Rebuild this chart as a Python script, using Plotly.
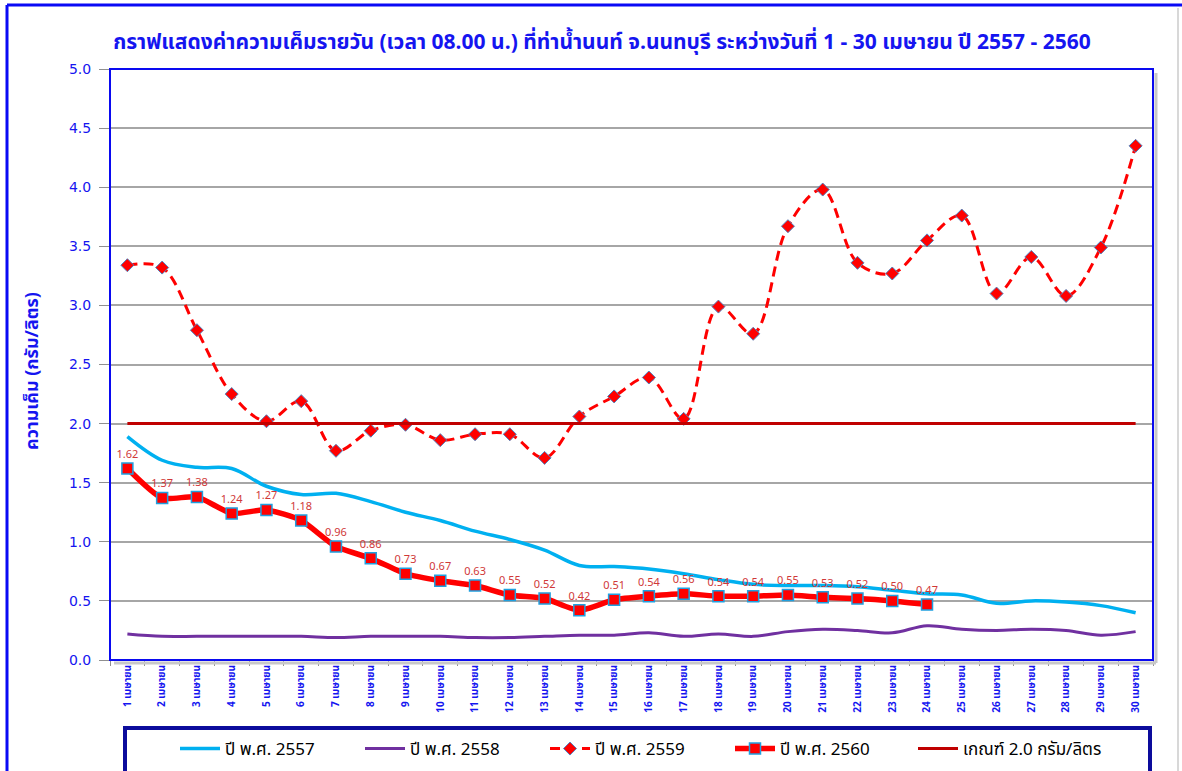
import plotly.graph_objects as go

# ---------------- data ----------------
days = list(range(1, 31))
month_name = "เมษายน"
categories = [f"{d} {month_name}" for d in days]

y2557 = [1.89, 1.69, 1.63, 1.62, 1.47, 1.40, 1.41, 1.34, 1.25, 1.18,
         1.09, 1.02, 0.93, 0.80, 0.79, 0.77, 0.73, 0.68, 0.64, 0.63,
         0.63, 0.62, 0.59, 0.56, 0.55, 0.48, 0.50, 0.49, 0.46, 0.40]

y2558 = [0.22, 0.20, 0.20, 0.20, 0.20, 0.20, 0.19, 0.20, 0.20, 0.20,
         0.19, 0.19, 0.20, 0.21, 0.21, 0.23, 0.20, 0.22, 0.20, 0.24,
         0.26, 0.25, 0.23, 0.29, 0.26, 0.25, 0.26, 0.25, 0.21, 0.24]

y2559 = [3.34, 3.32, 2.79, 2.25, 2.02, 2.19, 1.77, 1.94, 1.99, 1.86,
         1.91, 1.91, 1.71, 2.06, 2.23, 2.39, 2.04, 2.99, 2.76, 3.67,
         3.98, 3.36, 3.27, 3.55, 3.76, 3.10, 3.41, 3.08, 3.49, 4.35]

y2560 = [1.62, 1.37, 1.38, 1.24, 1.27, 1.18, 0.96, 0.86, 0.73, 0.67,
         0.63, 0.55, 0.52, 0.42, 0.51, 0.54, 0.56, 0.54, 0.54, 0.55,
         0.53, 0.52, 0.50, 0.47]

threshold_value = 2.0
threshold = [threshold_value for _ in days]

series_names = ["ปี พ.ศ. 2557", "ปี พ.ศ. 2558", "ปี พ.ศ. 2559", "ปี พ.ศ. 2560",
                "เกณฑ์ 2.0 กรัม/ลิตร"]

title_text = "กราฟแสดงค่าความเค็มรายวัน (เวลา 08.00 น.) ที่ท่าน้ำนนท์ จ.นนทบุรี ระหว่างวันที่ 1 - 30 เมษายน ปี 2557 - 2560"
y_title = "ความเค็ม (กรัม/ลิตร)"

# ---------------- style ----------------
FONT = "Tahoma, 'Noto Sans Thai', 'Noto Sans Thai UI', 'Leelawadee UI', 'Noto Sans', 'DejaVu Sans', sans-serif"
BLUE = "#1515F0"
W, H = 1182, 771
L, R, T, B = 110, 1153, 69, 660   # plot area pixel box


def px(X):
    return (X - L) / (R - L)


def py(Y):
    return (B - Y) / (B - T)


fig = go.Figure()

fig.add_trace(go.Scatter(
    x=categories, y=y2557, name=series_names[0], mode="lines",
    line=dict(color="#00B0F0", width=3.5, shape="spline", smoothing=1.0)))

fig.add_trace(go.Scatter(
    x=categories, y=y2558, name=series_names[1], mode="lines",
    line=dict(color="#7030A0", width=3, shape="spline", smoothing=1.0)))

fig.add_trace(go.Scatter(
    x=categories, y=y2559, name=series_names[2], mode="lines+markers",
    line=dict(color="#FF0000", width=3, dash="10px,6px", shape="spline", smoothing=1.0),
    marker=dict(symbol="diamond", size=10, color="#FF0000",
                line=dict(color="#4F81BD", width=1))))

fig.add_trace(go.Scatter(
    x=categories[:len(y2560)], y=y2560, name=series_names[3], mode="lines+markers+text",
    text=[f"{v:.2f}" for v in y2560], textposition="top center",
    textfont=dict(family=FONT, size=11, color="#D03838"),
    line=dict(color="#FF0000", width=5.5, shape="spline", smoothing=0.6),
    marker=dict(symbol="square", size=11, color="#FF0000",
                line=dict(color="#1FA0E0", width=1.5))))

fig.add_trace(go.Scatter(
    x=categories, y=threshold, name=series_names[4], mode="lines",
    line=dict(color="#C00000", width=3), legend="legend2"))

# ---------------- frames ----------------
shapes = [
    # outer chart frame
    dict(type="line", xref="paper", yref="paper", x0=px(7), x1=px(1182), y0=py(5), y1=py(5),
         line=dict(color="#0A0AF5", width=3)),
    dict(type="line", xref="paper", yref="paper", x0=px(7), x1=px(7), y0=py(5), y1=py(775),
         line=dict(color="#0A0AF5", width=3)),
    dict(type="line", xref="paper", yref="paper", x0=px(1178), x1=px(1178), y0=py(8), y1=py(775),
         line=dict(color="#D8D8D8", width=2)),
    # plot area shadow + border
    dict(type="line", xref="paper", yref="paper", x0=px(R + 3), x1=px(R + 3), y0=py(T + 4), y1=py(B + 3),
         line=dict(color="#C8C8C8", width=3)),
    dict(type="line", xref="paper", yref="paper", x0=px(L + 4), x1=px(R + 3), y0=py(B + 3), y1=py(B + 3),
         line=dict(color="#C8C8C8", width=3)),
    dict(type="rect", xref="paper", yref="paper", x0=0, x1=1, y0=0, y1=1,
         line=dict(color="#0A0AF0", width=2), layer="above"),
    # legend box
    dict(type="rect", xref="paper", yref="paper", x0=px(125), x1=px(1150), y0=py(780), y1=py(728),
         line=dict(color="#0C0C9C", width=4), fillcolor="rgba(0,0,0,0)"),
]

legend_common = dict(orientation="h", xanchor="left", y=py(749), yanchor="middle",
                     font=dict(family=FONT, size=17, color="black"),
                     bgcolor="rgba(0,0,0,0)", borderwidth=0, traceorder="normal",
                     itemwidth=40)

fig.update_layout(
    width=W, height=H,
    margin=dict(l=L, r=W - R, t=T, b=H - B, autoexpand=False),
    paper_bgcolor="white", plot_bgcolor="white",
    font=dict(family=FONT, color=BLUE),
    title=dict(text=title_text, x=602 / W, xanchor="center", y=1 - 42 / H, yanchor="middle",
               font=dict(family=FONT, size=21, color=BLUE, weight="bold")),
    showlegend=True,
    legend=dict(x=px(175), entrywidth=130, entrywidthmode="pixels", **legend_common),
    legend2=dict(x=px(913), **legend_common),
    shapes=shapes,
    annotations=[dict(text=y_title, xref="paper", yref="paper", x=px(32), y=py(371),
                      textangle=-90, showarrow=False, xanchor="center", yanchor="middle",
                      font=dict(family=FONT, size=18, color=BLUE, weight="bold"))],
)

fig.update_xaxes(
    type="category", categoryorder="array", categoryarray=categories,
    tickangle=-90, tickfont=dict(family=FONT, size=10, color=BLUE, weight="bold"),
    ticks="outside", tickson="boundaries", ticklen=5, tickcolor="#909090",
    showgrid=False, showline=True, linecolor="#909090", linewidth=1,
    range=[-0.5, len(categories) - 0.5], zeroline=False, automargin=False)

fig.update_yaxes(
    range=[0, 5], dtick=0.5, tick0=0, tickformat=".1f",
    tickfont=dict(family="'DejaVu Sans', Verdana, sans-serif", size=14, color=BLUE),
    ticks="outside", ticklen=10, tickcolor="#909090", ticklabelstandoff=5,
    showgrid=True, gridcolor="#A6A6A6", gridwidth=1.5,
    showline=False, zeroline=False, automargin=False)

fig.write_html("out.html",
               config={"displayModeBar": False},
               post_script="document.body.style.margin='0';document.body.style.overflow='hidden';")
